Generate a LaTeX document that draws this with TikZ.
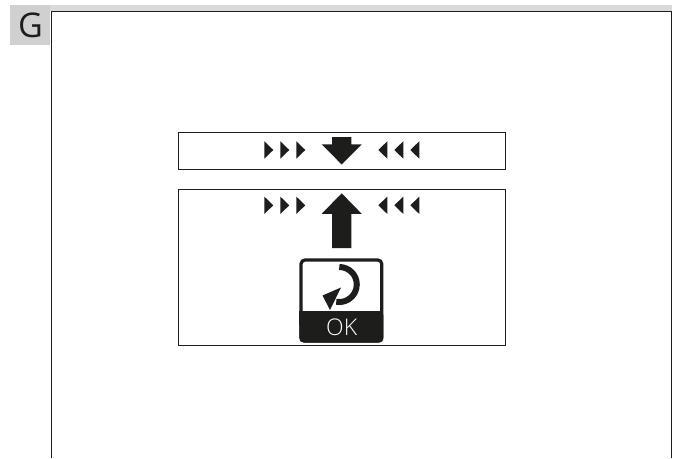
\documentclass[tikz,border=0pt]{standalone}
\usepackage{fontspec}
\setmainfont{Open Sans}
\newfontfamily\okfont{Open Sans Light}
\definecolor{ink}{HTML}{1D1D1B}
\definecolor{tab}{HTML}{D0D0D0}
\tikzset{
  frameline/.style={draw=ink,line width=1pt},
  solid ink/.style={fill=ink,draw=none},
  rtri/.pic={\fill[ink] (0,-8.7) -- (9,0) -- (0,8.7) -- cycle;},
  ltri/.pic={\fill[ink] (0,-8.7) -- (-9,0) -- (0,8.7) -- cycle;},
}
\begin{document}
\begin{tikzpicture}[x=1pt,y=-1pt]
\useasboundingbox (0,0) rectangle (680,458);
% tab and strip
\fill[tab] (10,5) rectangle (50,45);
\fill[tab!80!white] (50,5) rectangle (672,11);
\node[text=ink,font=\fontsize{34}{34}\selectfont,inner sep=0pt] (g) at (30.5,25.5) {G};
% page frame
\draw[frameline] (51.5,458) -- (51.5,11.5) -- (671.5,11.5) -- (671.5,458);
% boxes
\draw[frameline] (178.5,132) rectangle (505,169);
\draw[frameline] (178.5,189.5) rectangle (505,345);
% triangle rows
\foreach \y in {150,205.3}{
  \foreach \x in {264.3,280.3,296.3}{\pic at (\x,\y) {rtri};}
  \foreach \x in {387.3,403.3,419.3}{\pic at (\x,\y) {ltri};}
}
% down arrow
\path[solid ink] (332,137) -- (351.3,137) -- (351.3,144.3) -- (361.7,144.3) -- (341.7,164.5) -- (321.7,144.3) -- (332,144.3) -- cycle;
% up arrow
\path[solid ink] (332,248) -- (351.3,248) -- (351.3,213.8) -- (361.7,213.8) -- (341.7,193.3) -- (321.7,213.8) -- (332,213.8) -- cycle;
% OK icon
\draw[ink,line width=3.2pt,rounded corners=4pt] (301,260) rectangle (381.8,341);
\fill[ink,rounded corners=4pt] (299.4,311.3) -- (383.4,311.3) -- (383.4,342.6) -- (299.4,342.6) -- cycle;
\fill[ink] (299.4,311.3) rectangle (383.4,325);
\node[text=white,font=\okfont\fontsize{23}{23}\selectfont,inner sep=0pt] (ok) at (341.7,327.3) {OK};
% curved arrow
\draw[ink,line width=6pt] (339.3,267) arc[start angle=-90,end angle=100,radius=17.5];
\fill[ink] (322.5,295.5) -- (341,287.5) -- (330,310) -- cycle;
\end{tikzpicture}
\end{document}
